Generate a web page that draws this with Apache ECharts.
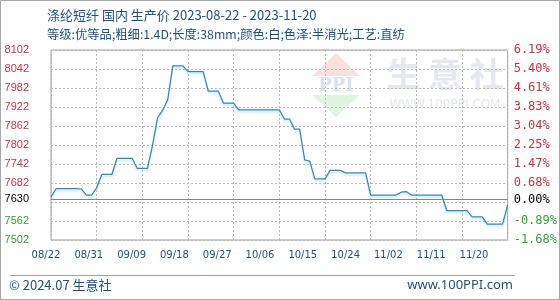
<!DOCTYPE html>
<html><head><meta charset="utf-8">
<script src="https://cdn.jsdelivr.net/npm/echarts@6/dist/echarts.min.js"></script>
<style>html,body{margin:0;padding:0;background:#fff}#c{width:560px;height:300px}</style>
</head><body><div id="c"></div>
<script>
// ---- data ----
const startDate = '2023-08-22';
const prices = [
  7638, 7664, 7664, 7664, 7664, 7664, 7663, 7644, 7644, 7667,
  7709, 7709, 7709, 7760, 7760, 7760, 7760, 7728, 7728, 7728,
  7800, 7888, 7912, 7945, 8052, 8052, 8052, 8034, 8034, 8034,
  8034, 7972, 7972, 7972, 7934, 7934, 7934, 7913, 7913, 7913,
  7913, 7913, 7913, 7913, 7913, 7913, 7884, 7884, 7852, 7852,
  7755, 7751, 7695, 7695, 7695, 7722, 7722, 7722, 7714, 7714,
  7714, 7714, 7714, 7644, 7644, 7644, 7644, 7644, 7644, 7653,
  7655, 7644, 7644, 7644, 7644, 7644, 7644, 7644, 7595, 7595,
  7595, 7595, 7595, 7575, 7575, 7575, 7552, 7552, 7552, 7552,
  7613
];
const xTickLabels = ['08/22','08/31','09/09','09/18','09/27','10/06','10/15','10/24','11/02','11/11','11/20'];
const xGridEvery = 9; // days between vertical grid lines
const yTickValues = [7502,7562,7622,7682,7742,7802,7862,7922,7982,8042,8102];
const leftTickLabels = ['7502','7562','','7682','7742','7802','7862','7922','7982','8042','8102'];
const rightTickLabels = ['-1.68%','-0.89%','','0.68%','1.47%','2.25%','3.04%','3.83%','4.61%','5.40%','6.19%'];
const baseValue = 7630;
const baseLeftLabel = '7630';
const baseRightLabel = '0.00%';
const title1 = '涤纶短纤 国内 生产价 2023-08-22 - 2023-11-20';
const title2 = '等级:优等品;粗细:1.4D;长度:38mm;颜色:白;色泽:半消光;工艺:直纺';

// daily category dates
const dates = [];
(function(){
  const d0 = new Date(startDate + 'T00:00:00Z');
  for (let i = 0; i < prices.length; i++) {
    const d = new Date(d0.getTime() + i * 86400000);
    dates.push(String(d.getUTCMonth()+1).padStart(2,'0') + '/' + String(d.getUTCDate()).padStart(2,'0'));
  }
})();

const RED = '#d0303f', GREEN = '#3c9a3c', TXT = '#1f4f7a';
const GRID_STYLE = {color: '#b8b8b8', width: 1, type: [2, 2]};
function tagFor(v){ return v > baseValue ? 'r' : (v < baseValue ? 'g' : 'k'); }

// grid lines placed through the axes' scales as markLines
const markData = [];
yTickValues.forEach(function(v){ markData.push({yAxis: v, lineStyle: GRID_STYLE, label: {show: false}}); });
dates.forEach(function(d, i){ if (i % xGridEvery === 0) markData.push({xAxis: d, lineStyle: GRID_STYLE, label: {show: false}}); });
markData.push({yAxis: baseValue, lineStyle: {color: '#858585', width: 1, type: 'solid'},
  label: {show: true, position: 'start', distance: 22, formatter: baseLeftLabel, color: '#000', fontSize: 11, fontFamily: 'Liberation Sans'}});
markData.push({yAxis: baseValue, lineStyle: {color: '#858585', width: 1, type: 'solid'},
  label: {show: true, position: 'end', distance: 6, formatter: baseRightLabel, color: '#000', fontSize: 12, fontFamily: 'DejaVu Sans Mono'}});

const chart = echarts.init(document.getElementById('c'));
chart.setOption({
  animation: false,
  grid: [
    {left: 51, right: 51, top: 50, bottom: 60, show: true, borderColor: '#9a9a9a', borderWidth: 1},
    {left: 46, right: 86, top: 50, bottom: 60, show: false}
  ],
  xAxis: [
    {type: 'category', data: dates, boundaryGap: false, gridIndex: 0,
     axisLine: {show: false}, axisTick: {show: false}, axisLabel: {show: false}, splitLine: {show: false}},
    {type: 'category', data: xTickLabels, boundaryGap: false, gridIndex: 1,
     axisLine: {show: false}, axisTick: {show: false}, splitLine: {show: false},
     axisLabel: {show: true, interval: 0, margin: 10, color: '#1f4f7a', fontSize: 10, fontFamily: 'DejaVu Sans'}}
  ],
  yAxis: [
    {type: 'value', min: yTickValues[0], max: yTickValues[yTickValues.length-1], gridIndex: 0,
     axisLine: {show: false}, axisTick: {show: false, customValues: yTickValues}, splitLine: {show: false},
     axisLabel: {show: true, customValues: yTickValues, margin: 22, fontSize: 11, fontFamily: 'Liberation Sans',
       formatter: function(v){ const i = yTickValues.indexOf(v); const s = i >= 0 ? leftTickLabels[i] : ''; return s ? '{' + tagFor(v) + '|' + s + '}' : ''; },
       rich: {r: {color: RED, fontSize: 11, fontFamily: 'Liberation Sans'}, g: {color: GREEN, fontSize: 11, fontFamily: 'Liberation Sans'}, k: {color: '#000', fontSize: 11}}}},
    {type: 'value', min: yTickValues[0], max: yTickValues[yTickValues.length-1], gridIndex: 0, position: 'right',
     axisLine: {show: false}, axisTick: {show: false, customValues: yTickValues}, splitLine: {show: false},
     axisLabel: {show: true, customValues: yTickValues, margin: 6, fontSize: 12, fontFamily: 'DejaVu Sans Mono',
       formatter: function(v){ const i = yTickValues.indexOf(v); const s = i >= 0 ? rightTickLabels[i] : ''; return s ? '{' + tagFor(v) + '|' + s + '}' : ''; },
       rich: {r: {color: RED, fontSize: 12, fontFamily: 'DejaVu Sans Mono'}, g: {color: GREEN, fontSize: 12, fontFamily: 'DejaVu Sans Mono'}, k: {color: '#000'}}}},
    {type: 'value', gridIndex: 1, show: false, min: 0, max: 1}
  ],
  series: [
    {
      type: 'line', data: prices, xAxisIndex: 0, yAxisIndex: 0,
      symbol: 'none', smooth: false, z: 5,
      lineStyle: {color: '#3f81a8', width: 1.2, shadowColor: 'rgba(110,210,240,0.55)', shadowBlur: 2, shadowOffsetY: 2},
      markLine: {silent: true, symbol: 'none', animation: false, z: 1, data: markData}
    }
  ],
  graphic: [
    {type: 'rect', z: -10, shape: {x: 0.5, y: 0.5, width: 559, height: 299}, style: {fill: 'none', stroke: '#a8a8a8', lineWidth: 1}},
    {type: 'text', x: 47, y: 15, style: {text: title1, fill: TXT, fontSize: 13, fontFamily: 'Noto Sans CJK SC', textVerticalAlign: 'middle'}},
    {type: 'text', x: 47, y: 34, style: {text: title2, fill: TXT, fontSize: 12.3, fontFamily: 'Noto Sans CJK SC', textVerticalAlign: 'middle'}},
    {type: 'line', shape: {x1: 10, y1: 275.5, x2: 515, y2: 275.5}, style: {stroke: '#a0a0a0', lineWidth: 1}},
    {type: 'text', x: 9, y: 285, style: {text: '© 2024.07 生意社', fill: TXT, fontSize: 13, fontFamily: 'Noto Sans CJK SC', textVerticalAlign: 'middle'}},
    {type: 'text', x: 513, y: 285, style: {text: 'www.100PPI.com', fill: TXT, fontSize: 13, fontFamily: 'Noto Sans', textAlign: 'right', textVerticalAlign: 'middle'}},
    // watermark
    {type: 'polygon', z: -5, shape: {points: [[336,53],[312,76],[360,76]]}, style: {fill: 'rgba(240,170,160,0.35)'}},
    {type: 'text', z: -5, x: 336, y: 86, style: {text: 'PPI', fill: 'rgba(150,170,200,0.35)', fontSize: 18, fontWeight: 'bold', fontFamily: 'DejaVu Serif', textAlign: 'center', textVerticalAlign: 'middle'}},
    {type: 'polygon', z: -5, shape: {points: [[312,95],[360,95],[336,117]]}, style: {fill: 'rgba(170,220,170,0.35)'}},
    {type: 'text', z: -5, x: 445, y: 74, style: {text: '生 意 社', fill: 'rgba(205,210,225,0.5)', fontSize: 34, fontWeight: 'bold', fontFamily: 'Noto Sans CJK SC', textAlign: 'center', textVerticalAlign: 'middle'}},
    {type: 'text', z: -5, x: 445, y: 105, style: {text: 'WWW.100PPI.COM', fill: 'rgba(200,205,215,0.5)', fontSize: 12, fontFamily: 'DejaVu Sans', textAlign: 'center', textVerticalAlign: 'middle'}}
  ]
});
</script></body></html>
